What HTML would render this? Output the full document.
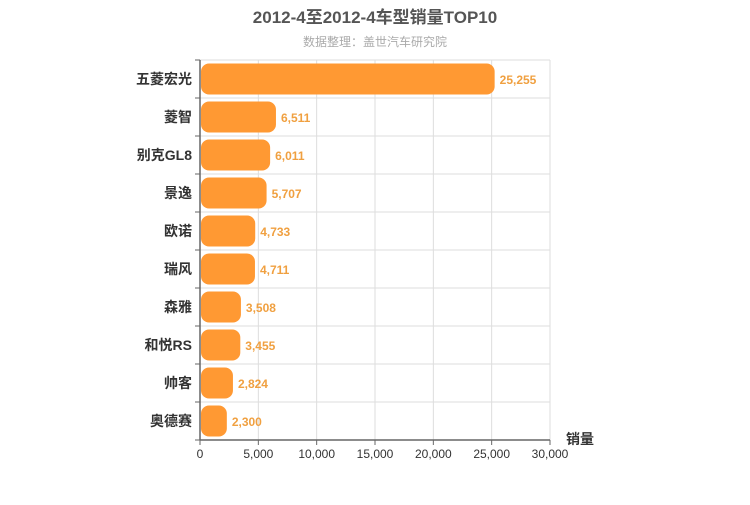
<!DOCTYPE html>
<html><head><meta charset="utf-8"><style>
body{margin:0;background:#fff;}
svg{font-family:"Liberation Sans","Noto Sans CJK SC",sans-serif;}
</style></head><body>
<svg width="750" height="500" id="c">
<text x="375" y="23" text-anchor="middle" font-size="17" font-weight="bold" fill="#555">2012-4至2012-4车型销量TOP10</text>
<text x="375" y="46" text-anchor="middle" font-size="12" fill="#aaa">数据整理：盖世汽车研究院</text>
<text x="580" y="444" text-anchor="middle" font-size="14" font-weight="bold" fill="#333">销量</text>
<g id="g"></g>
</svg>
<script>
const categories=["五菱宏光","菱智","别克GL8","景逸","欧诺","瑞风","森雅","和悦RS","帅客","奥德赛"];
const values=[25255,6511,6011,5707,4733,4711,3508,3455,2824,2300];
const ticks=[0,5000,10000,15000,20000,25000,30000];
const x0=200,x1=550,y0=60,rowH=38,xmax=30000;
const xs=v=>x0+v/xmax*(x1-x0);
const ns="http://www.w3.org/2000/svg",g=document.getElementById('g');
function mk(t,a,txt){const e=document.createElementNS(ns,t);for(const k in a)e.setAttribute(k,a[k]);if(txt!=null)e.textContent=txt;g.appendChild(e);return e;}
const yb=y0+rowH*categories.length;
for(let i=0;i<=categories.length;i++){const y=y0+i*rowH;
 const l=mk('line',{x1:x0,x2:x1,y1:y,y2:y,stroke:'#ddd'});
 const t=mk('line',{x1:x0-5,x2:x0,y1:y,y2:y,stroke:'#666'});}
ticks.forEach(v=>{const x=xs(v);
 const l=mk('line',{x1:x,x2:x,y1:y0,y2:yb,stroke:'#ddd'});
 const tk=mk('line',{x1:x,x2:x,y1:yb,y2:yb+5,stroke:'#666'});
 const t=mk('text',{x:x,y:yb+18,'text-anchor':'middle','font-size':12,fill:'#333'},v.toLocaleString('en-US'));});
const ax=mk('line',{x1:x0,x2:x0,y1:y0,y2:yb,stroke:'#666','stroke-width':1.5});
const bx=mk('line',{x1:x0,x2:x1,y1:yb,y2:yb,stroke:'#666','stroke-width':1.5});
categories.forEach((c,i)=>{const yc=y0+i*rowH+rowH/2;
 const t=mk('text',{x:x0-8,y:yc+5,'text-anchor':'end','font-size':14,'font-weight':'bold',fill:'#333'},c);
 const w=xs(values[i])-x0-1;
 const r=mk('rect',{x:x0+1,y:yc-15.5,width:w,height:31,rx:8,fill:'#ff9933'});
 const v=mk('text',{x:xs(values[i])+5,y:yc+5,'font-size':12,'font-weight':'bold',fill:'#f0a040'},values[i].toLocaleString('en-US'));});
</script>
</body></html>
